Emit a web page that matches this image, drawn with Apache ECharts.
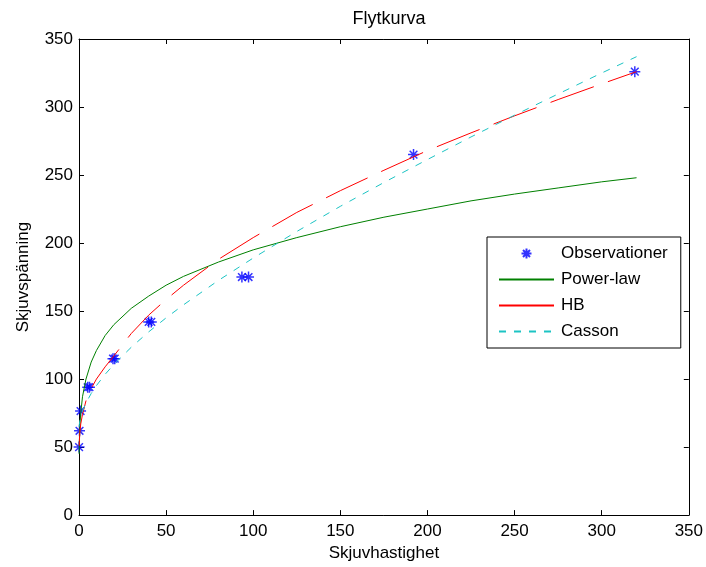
<!DOCTYPE html>
<html>
<head>
<meta charset="utf-8">
<script src="https://cdn.jsdelivr.net/npm/echarts@6/dist/echarts.min.js"></script>
<style>
  html, body { margin: 0; padding: 0; background: #fff; }
  #chart { width: 706px; height: 567px; }
</style>
</head>
<body>
<div id="chart"></div>
<script>
// observerade värden
var obsRate = [0.05, 0.3, 0.9, 5, 6, 19.5, 20.5, 40, 41.5, 93.5, 97.3, 192, 319];
var obsStress = [50, 62, 76.5, 94, 94, 115, 115, 142, 142, 175, 175, 265, 326];

// modellkurvor, avlästa i bilden
var fitRate = [0.08, 0.2, 0.5, 1, 2, 4, 7, 10, 15, 20, 30, 40, 50, 60, 80, 100, 125, 150, 175, 200, 225, 250, 275, 300, 320];
var powerLaw = [45, 54, 65, 75, 87, 100, 112.5, 121, 132, 140, 152, 161, 169, 175.5, 186, 195, 204, 212, 219, 225, 231, 236, 240.5, 245, 248];
var hb = [48, 54, 61, 67, 74, 84, 93, 100, 109, 117, 133.5, 147, 158.5, 169, 188, 204, 222.5, 238.5, 253.5, 268, 281, 293.5, 305.5, 317, 326];
var casson = [65, 66.8, 69.3, 72, 76.3, 82.4, 89.4, 95.2, 103.5, 110.7, 123.4, 134.7, 145, 154.6, 172.5, 189, 208.5, 227, 244.5, 261.4, 278, 294, 309.6, 325, 337];

var axisTicks = [0, 50, 100, 150, 200, 250, 300, 350];

var font = 'Liberation Sans, Arial, Helvetica, sans-serif';
var star = 'path://M0,5L10,5M5,0L5,10M1.5,1.5L8.5,8.5M8.5,1.5L1.5,8.5';

function pairs(xs, ys) {
    var out = [];
    for (var i = 0; i < xs.length; i++) out.push([xs[i], ys[i]]);
    return out;
}

function makeAxis(pos, showLabel, name, nameGap, margin) {
    return {
        type: 'value',
        position: pos,
        min: axisTicks[0],
        max: axisTicks[axisTicks.length - 1],
        interval: axisTicks[1] - axisTicks[0],
        name: name,
        nameLocation: 'middle',
        nameGap: nameGap,
        nameTextStyle: { color: '#000', fontSize: 17, fontFamily: font },
        axisLine: { show: true, onZero: false, lineStyle: { color: '#000', width: 1 } },
        axisTick: { show: true, inside: true, length: 5, lineStyle: { color: '#000' } },
        axisLabel: { show: showLabel, color: '#000', fontSize: 17, fontFamily: font, margin: margin },
        splitLine: { show: false }
    };
}

var myChart = echarts.init(document.getElementById('chart'));
var noDot = { opacity: 0 };
var option = {
    animation: false,
    backgroundColor: '#fff',
    title: {
        text: 'Flytkurva',
        left: 384,
        textAlign: 'center',
        top: 5,
        textStyle: { color: '#000', fontSize: 18, fontWeight: 'normal', fontFamily: font }
    },
    grid: { left: 79, top: 39, right: 17, bottom: 48 },
    xAxis: [
        makeAxis('bottom', true, 'Skjuvhastighet', 28, 8),
        makeAxis('top', false, '', 0, 8)
    ],
    yAxis: [
        makeAxis('left', true, 'Skjuvspänning', 47, 6),
        makeAxis('right', false, '', 0, 6)
    ],
    legend: {
        orient: 'vertical',
        left: 487,
        top: 237,
        padding: [8, 13, 8, 11],
        itemWidth: 55,
        itemHeight: 10,
        itemGap: 9,
        borderColor: '#000',
        borderWidth: 1,
        borderRadius: 0,
        backgroundColor: '#fff',
        textStyle: { color: '#000', fontSize: 17, lineHeight: 17, fontFamily: font, padding: [0, 0, 0, 2] },
        data: [
            { name: 'Observationer' },
            { name: 'Power-law', itemStyle: noDot },
            { name: 'HB', itemStyle: noDot, lineStyle: { type: 'solid' } },
            { name: 'Casson', itemStyle: noDot }
        ]
    },
    series: [
        {
            name: 'Observationer',
            type: 'scatter',
            symbol: star,
            symbolSize: 11,
            itemStyle: { color: '#0000ff', borderColor: '#0000ff', borderWidth: 1.5 },
            data: pairs(obsRate, obsStress),
            z: 2
        },
        {
            name: 'Power-law',
            type: 'line',
            symbol: 'none',
            color: '#008000',
            lineStyle: { color: '#008000', width: 1 },
            data: pairs(fitRate, powerLaw),
            z: 3
        },
        {
            name: 'HB',
            type: 'line',
            symbol: 'none',
            color: '#ff0000',
            lineStyle: { color: '#ff0000', width: 1, type: [46, 15], dashOffset: 57 },
            data: pairs(fitRate, hb),
            z: 3
        },
        {
            name: 'Casson',
            type: 'line',
            symbol: 'none',
            color: '#1cc4c4',
            lineStyle: { color: '#1cc4c4', width: 1, type: [7, 8] },
            data: pairs(fitRate, casson),
            z: 3
        }
    ]
};
myChart.setOption(option);
</script>
</body>
</html>
